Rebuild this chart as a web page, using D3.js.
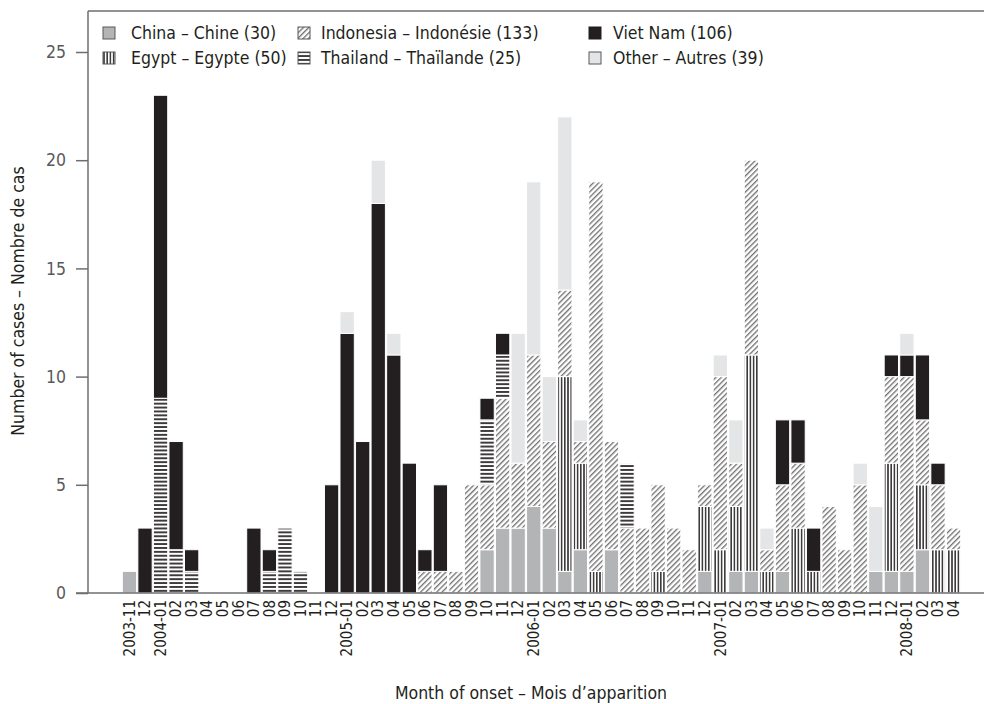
<!DOCTYPE html>
<html>
<head>
<meta charset="utf-8">
<script src="https://cdn.jsdelivr.net/npm/d3@7"></script>
<style>
  body { margin: 0; background: #fff; }
  svg text { font-family: "Liberation Sans Narrow", "DejaVu Sans Condensed", "Open Sans", sans-serif; fill: #231f20; }
</style>
</head>
<body>
<div id="chart"></div>
<script>
// Human H5N1 cases by month of onset, stacked by country

// Month categories (tick labels as printed)
const monthLabels = [
  "2003-11", "12",
  "2004-01", "02", "03", "04", "05", "06", "07", "08", "09", "10", "11", "12",
  "2005-01", "02", "03", "04", "05", "06", "07", "08", "09", "10", "11", "12",
  "2006-01", "02", "03", "04", "05", "06", "07", "08", "09", "10", "11", "12",
  "2007-01", "02", "03", "04", "05", "06", "07", "08", "09", "10", "11", "12",
  "2008-01", "02", "03", "04"
];

// Cases per month, one array per country (stack order bottom to top)
const china = [
  1, 0, 0, 0, 0, 0, 0, 0, 0, 0,
  0, 0, 0, 0, 0, 0, 0, 0, 0, 0,
  0, 0, 0, 2, 3, 3, 4, 3, 1, 2,
  0, 2, 0, 0, 0, 0, 0, 1, 0, 1,
  1, 0, 1, 0, 0, 0, 0, 0, 1, 1,
  1, 2, 0, 0
];
const egypt = [
  0, 0, 0, 0, 0, 0, 0, 0, 0, 0,
  0, 0, 0, 0, 0, 0, 0, 0, 0, 0,
  0, 0, 0, 0, 0, 0, 0, 0, 9, 4,
  1, 0, 0, 0, 1, 0, 0, 3, 2, 3,
  10, 1, 0, 3, 1, 0, 0, 0, 0, 5,
  0, 3, 2, 2
];
const indonesia = [
  0, 0, 0, 0, 0, 0, 0, 0, 0, 0,
  0, 0, 0, 0, 0, 0, 0, 0, 0, 1,
  1, 1, 5, 3, 6, 3, 7, 4, 4, 1,
  18, 5, 3, 3, 4, 3, 2, 1, 8, 2,
  9, 1, 4, 3, 0, 4, 2, 5, 0, 4,
  9, 3, 3, 1
];
const thailand = [
  0, 0, 9, 2, 1, 0, 0, 0, 0, 1,
  3, 1, 0, 0, 0, 0, 0, 0, 0, 0,
  0, 0, 0, 3, 2, 0, 0, 0, 0, 0,
  0, 0, 3, 0, 0, 0, 0, 0, 0, 0,
  0, 0, 0, 0, 0, 0, 0, 0, 0, 0,
  0, 0, 0, 0
];
const vietNam = [
  0, 3, 14, 5, 1, 0, 0, 0, 3, 1,
  0, 0, 0, 5, 12, 7, 18, 11, 6, 1,
  4, 0, 0, 1, 1, 0, 0, 0, 0, 0,
  0, 0, 0, 0, 0, 0, 0, 0, 0, 0,
  0, 0, 3, 2, 2, 0, 0, 0, 0, 1,
  1, 3, 1, 0
];
const other = [
  0, 0, 0, 0, 0, 0, 0, 0, 0, 0,
  0, 0, 0, 0, 1, 0, 2, 1, 0, 0,
  0, 0, 0, 0, 0, 6, 8, 3, 8, 1,
  0, 0, 0, 0, 0, 0, 0, 0, 1, 2,
  0, 1, 0, 0, 0, 0, 0, 1, 3, 0,
  1, 0, 0, 0
];

const seriesKeys = ["china", "egypt", "indonesia", "thailand", "vietNam", "other"];
const seriesNames = [
  "China – Chine (30)", "Egypt – Egypte (50)", "Indonesia – Indonésie (133)",
  "Thailand – Thaïlande (25)", "Viet Nam (106)", "Other – Autres (39)"
];
const yTicks = [0, 5, 10, 15, 20, 25];

// Layout
const width = 984, height = 704;
const frame = { left: 88, top: 11, bottom: 593, right: 984 };

const svg = d3.select('#chart').append('svg')
  .attr('width', width)
  .attr('height', height);

// Fill patterns
const defs = svg.append('defs');
const ink = '#231f20';

const vert = defs.append('pattern')
  .attr('id', 'pat-egypt')
  .attr('patternUnits', 'userSpaceOnUse')
  .attr('width', 3.2).attr('height', 10);
vert.append('rect').attr('width', 3.2).attr('height', 10).attr('fill', '#fff');
vert.append('rect').attr('x', 0.9).attr('width', 1.4).attr('height', 10).attr('fill', ink);

const horiz = defs.append('pattern')
  .attr('id', 'pat-thailand')
  .attr('patternUnits', 'userSpaceOnUse')
  .attr('width', 10).attr('height', 3.9);
horiz.append('rect').attr('width', 10).attr('height', 3.9).attr('fill', '#fff');
horiz.append('rect').attr('y', 1.1).attr('width', 10).attr('height', 1.7).attr('fill', ink);

const diag = defs.append('pattern')
  .attr('id', 'pat-indonesia')
  .attr('patternUnits', 'userSpaceOnUse')
  .attr('width', 3.8).attr('height', 10)
  .attr('patternTransform', 'rotate(45)');
diag.append('rect').attr('width', 3.8).attr('height', 10).attr('fill', '#fff');
diag.append('rect').attr('x', 1.3).attr('width', 0.85).attr('height', 10).attr('fill', ink);

const fills = {
  china: '#b3b4b6',
  egypt: 'url(#pat-egypt)',
  indonesia: 'url(#pat-indonesia)',
  thailand: 'url(#pat-thailand)',
  vietNam: ink,
  other: '#e4e5e6'
};

// Table for the stack
const table = monthLabels.map((m, i) => ({
  month: i,
  china: china[i], egypt: egypt[i], indonesia: indonesia[i],
  thailand: thailand[i], vietNam: vietNam[i], other: other[i]
}));

const stacked = d3.stack().keys(seriesKeys)(table);

// Scales
const x = d3.scaleBand()
  .domain(d3.range(monthLabels.length))
  .range([122, 961])
  .paddingInner(0.08)
  .paddingOuter(0.02);

const y = d3.scaleLinear()
  .domain([0, 25])
  .range([frame.bottom, 52]);

// Bars
svg.append('g')
  .selectAll('g')
  .data(stacked)
  .join('g')
  .attr('fill', d => fills[d.key])
  .selectAll('rect')
  .data(d => d.filter(s => s[1] > s[0]))
  .join('rect')
  .attr('x', d => x(d.data.month))
  .attr('width', x.bandwidth())
  .attr('y', d => y(d[1]))
  .attr('height', d => y(d[0]) - y(d[1]))
  .attr('stroke', '#fff')
  .attr('stroke-width', 1);

// Frame lines
const axisColor = '#6d6e70';
svg.append('line')
  .attr('x1', frame.left).attr('x2', frame.right)
  .attr('y1', frame.top).attr('y2', frame.top)
  .attr('stroke', axisColor).attr('stroke-width', 1.5);
svg.append('line')
  .attr('x1', frame.left).attr('x2', frame.left)
  .attr('y1', frame.top).attr('y2', frame.bottom)
  .attr('stroke', axisColor).attr('stroke-width', 1.5);
svg.append('line')
  .attr('x1', 76).attr('x2', frame.right)
  .attr('y1', frame.bottom).attr('y2', frame.bottom)
  .attr('stroke', axisColor).attr('stroke-width', 1.5);

// Y axis
const yAxis = d3.axisLeft(y)
  .tickValues(yTicks)
  .tickSize(12)
  .tickPadding(10);
const gy = svg.append('g')
  .attr('transform', `translate(${frame.left},0)`)
  .call(yAxis);
gy.select('.domain').remove();
gy.selectAll('.tick line').attr('stroke', axisColor).attr('stroke-width', 1.5);
gy.selectAll('.tick text')
  .attr('font-size', 17.5)
  .style('fill', '#58595b')
  .style('font-family', '"Liberation Sans Narrow", "DejaVu Sans Condensed", sans-serif');

// X tick labels (rotated)
const xAxis = d3.axisBottom(x)
  .tickFormat(i => monthLabels[i])
  .tickSize(0)
  .tickPadding(0);
const gx = svg.append('g')
  .attr('transform', `translate(0,${frame.bottom})`)
  .call(xAxis);
gx.select('.domain').remove();
gx.selectAll('.tick text')
  .attr('font-size', 15)
  .attr('text-anchor', 'end')
  .attr('transform', 'rotate(-90)')
  .attr('x', -7)
  .attr('y', 0)
  .attr('dy', '0.35em');

// Axis titles
svg.append('text')
  .attr('transform', 'translate(24,301) rotate(-90)')
  .attr('text-anchor', 'middle')
  .attr('font-size', 17.5)
  .text('Number of cases – Nombre de cas');

svg.append('text')
  .attr('x', 531)
  .attr('y', 699)
  .attr('text-anchor', 'middle')
  .attr('font-size', 17.5)
  .text('Month of onset – Mois d’apparition');

// Legend
const legendIconX = [103, 298, 589];
const legendTextX = [131, 321, 613];
const legendRows = [33, 58];
const legendOrder = [
  { key: 'china', col: 0, row: 0 },
  { key: 'egypt', col: 0, row: 1 },
  { key: 'indonesia', col: 1, row: 0 },
  { key: 'thailand', col: 1, row: 1 },
  { key: 'vietNam', col: 2, row: 0 },
  { key: 'other', col: 2, row: 1 }
];

const legend = svg.append('g')
  .selectAll('g')
  .data(legendOrder)
  .join('g')
  .attr('transform', d => `translate(0,${legendRows[d.row]})`);

legend.append('rect')
  .attr('x', d => legendIconX[d.col]).attr('y', -6)
  .attr('width', 12).attr('height', 12)
  .attr('fill', d => fills[d.key])
  .attr('stroke', d => d.key === 'vietNam' ? ink : '#58595b')
  .attr('stroke-width', 1);

legend.append('text')
  .attr('x', d => legendTextX[d.col])
  .attr('dy', '0.35em')
  .attr('font-size', 17.5)
  .text(d => seriesNames[seriesKeys.indexOf(d.key)]);
</script>
</body>
</html>
